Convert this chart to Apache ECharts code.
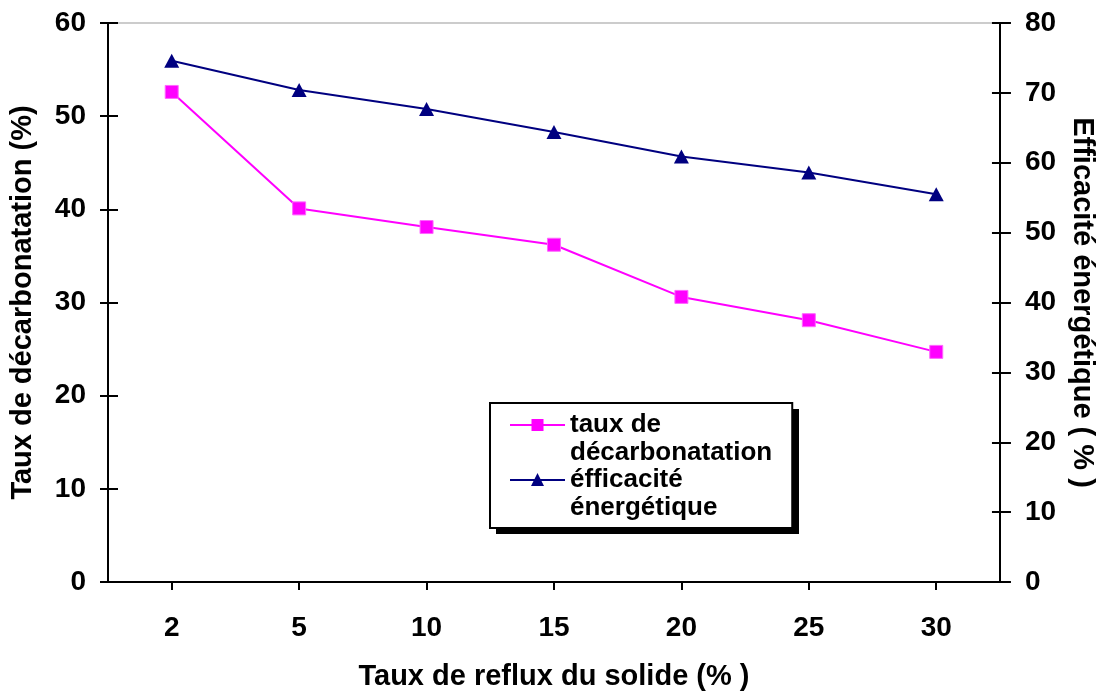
<!DOCTYPE html>
<html>
<head>
<meta charset="utf-8">
<script src="https://cdn.jsdelivr.net/npm/echarts@6/dist/echarts.min.js"></script>
<style>
html,body{margin:0;padding:0;background:#fff;}
#chart{width:1104px;height:696px;}
</style>
</head>
<body>
<div id="chart"></div>
<script>
// Data
var categories = ['2', '5', '10', '15', '20', '25', '30'];
var decarbonatation = [52.6, 40.1, 38.1, 36.2, 30.6, 28.1, 24.7];
var efficacite = [74.6, 70.4, 67.7, 64.4, 60.9, 58.6, 55.5];
var seriesNames = ['taux de décarbonatation', 'éfficacité énergétique'];
var legendLabels = ['taux de\ndécarbonatation', 'éfficacité\nénergétique'];
var xTitle = 'Taux de reflux du solide (% )';
var yLeftTitle = 'Taux de décarbonatation (%)';
var yRightTitle = 'Efficacité énergétique ( % )';

var FONT = 'Liberation Sans, Arial, sans-serif';
var chart = echarts.init(document.getElementById('chart'), null, {renderer: 'canvas'});

function valueAxis(pos, max, showAll, tickInside, tickLen, name, nameGap, nameRotate, labelMargin) {
  return {
    type: 'value', position: pos, min: 0, max: max, interval: 10,
    name: showAll ? name : '', nameLocation: 'middle', nameGap: nameGap, nameRotate: nameRotate,
    nameTextStyle: {fontFamily: FONT, fontWeight: 'bold', fontSize: 29, color: '#000'},
    axisLine: {show: showAll, lineStyle: {color: '#000', width: 2}},
    axisTick: {show: true, inside: tickInside, length: tickLen, lineStyle: {color: '#000', width: 2}},
    axisLabel: {show: showAll, margin: labelMargin, fontFamily: FONT, fontWeight: 'bold', fontSize: 28, color: '#000'},
    splitLine: {show: false}
  };
}

// legend icons: line + marker drawn in the top half of a 55x56 box (tiny corner specks fix the box)
var box = 'M0,0h0.01v0.01h-0.01z M54.99,55.99h0.01v0.01h-0.01z ';
var iconSquare = 'path://' + box + 'M0,13h55v2h-55z M21.5,8h12v12h-12z';
var iconTriangle = 'path://' + box + 'M0,13h55v2h-55z M27.5,7L34,20L21,20z';

var option = {
  backgroundColor: '#fff',
  animation: false,
  grid: {left: 108, right: 102, top: 23, bottom: 111, show: true, borderColor: '#999', borderWidth: 1, backgroundColor: 'transparent'},
  xAxis: {
    type: 'category', data: categories, boundaryGap: true,
    name: xTitle, nameLocation: 'middle', nameGap: 80,
    nameTextStyle: {fontFamily: FONT, fontWeight: 'bold', fontSize: 29, color: '#000'},
    axisLine: {lineStyle: {color: '#000', width: 2}},
    axisTick: {show: true, alignWithLabel: true, length: 8, lineStyle: {color: '#000', width: 2}},
    axisLabel: {margin: 32, fontFamily: FONT, fontWeight: 'bold', fontSize: 28, color: '#000'},
    splitLine: {show: false}
  },
  yAxis: [
    valueAxis('left', 60, true, false, 8, yLeftTitle, 71, 90, 22),
    valueAxis('right', 80, true, false, 11, yRightTitle, 66, -90, 25),
    valueAxis('left', 60, false, true, 10, '', 0, 0, 0),
    valueAxis('right', 80, false, true, 8, '', 0, 0, 0)
  ],
  graphic: [{
    type: 'rect', z: 1, silent: true,
    shape: {x: 496, y: 409, width: 303, height: 125},
    style: {fill: '#000'}
  }],
  legend: {
    orient: 'vertical', left: 490, top: 403, z: 5,
    padding: [8, 20, 6, 20],
    itemWidth: 55, itemHeight: 56, itemGap: -1,
    backgroundColor: '#fff', borderColor: '#000', borderWidth: 2,
    itemStyle: {borderWidth: 0},
    formatter: function (name) { return legendLabels[seriesNames.indexOf(name)]; },
    textStyle: {fontFamily: FONT, fontWeight: 'bold', fontSize: 26, lineHeight: 28, color: '#000'},
    data: [
      {name: seriesNames[0], icon: iconSquare},
      {name: seriesNames[1], icon: iconTriangle}
    ]
  },
  series: [
    {
      name: seriesNames[0], type: 'line', yAxisIndex: 0, data: decarbonatation,
      symbol: 'rect', symbolSize: 13,
      lineStyle: {color: '#FF00FF', width: 2},
      itemStyle: {color: '#FF00FF', borderColor: '#FF66FF', borderWidth: 1}
    },
    {
      name: seriesNames[1], type: 'line', yAxisIndex: 1, data: efficacite,
      symbol: 'triangle', symbolSize: [15, 14],
      lineStyle: {color: '#000080', width: 2},
      itemStyle: {color: '#000080'}
    }
  ]
};
chart.setOption(option);
</script>
</body>
</html>
